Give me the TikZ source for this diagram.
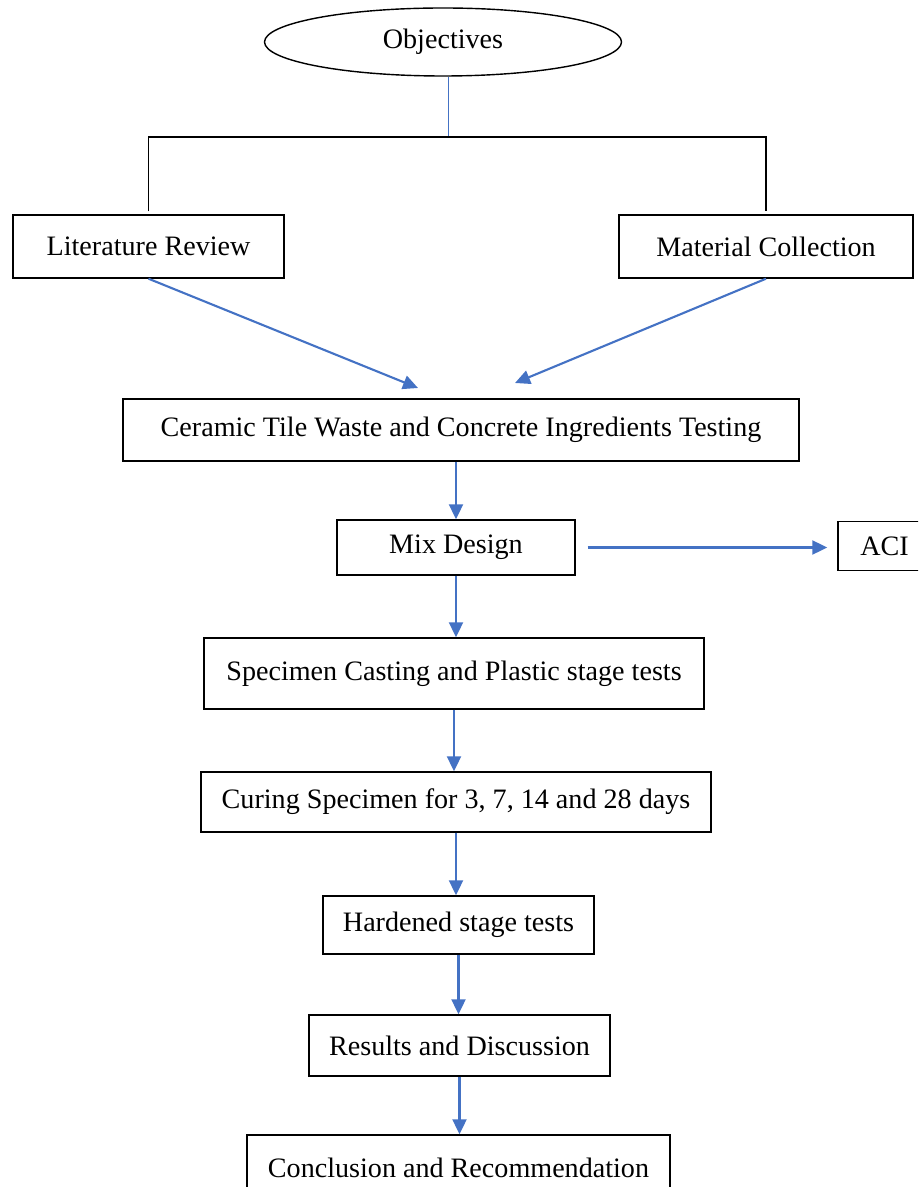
\documentclass[tikz,border=0pt]{standalone}
\usepackage{fontspec}
\setmainfont{Liberation Serif}
\usepackage{tikz}
\usetikzlibrary{arrows.meta, shapes.geometric}

\definecolor{flowblue}{RGB}{68,114,196}

\begin{document}
\begin{tikzpicture}[
    >={Triangle[length=3.0mm, width=2.8mm]},
    font=\fontsize{16}{19}\selectfont,
    box/.style  = {draw=black, line width=0.8pt, inner sep=2pt, fill=white},
    oval/.style = {ellipse, draw=black, line width=0.8pt, minimum width=7.14cm, minimum height=1.36cm},
    flow/.style = {->, draw=flowblue, line width=1.2pt},
    tree/.style = {draw=black, line width=0.6pt}
  ]
  \clip (0,0) rectangle (18.36,-23.74);

  % --- top: objectives and the split ---
  \node[oval] (obj) at (8.86,-0.84) {Objectives};
  \coordinate (split) at (8.96,-2.74);

  % --- first row ---
  \node[box, minimum width=5.42cm, minimum height=1.26cm] (litrev) at (2.97,-4.93) {Literature Review};
  \node[box, minimum width=5.88cm, minimum height=1.26cm] (matcol) at (15.32,-4.93) {Material Collection};

  % --- main column ---
  \node[box, minimum width=13.52cm, minimum height=1.24cm] (testing)  at (9.22,-8.60)  {Ceramic Tile Waste and Concrete Ingredients Testing};
  \node[box, minimum width=4.76cm,  minimum height=1.10cm] (mix)      at (9.12,-10.95) {Mix Design};
  \node[box, minimum width=1.86cm,  minimum height=0.98cm] (aci)      at (17.69,-10.92) {ACI};
  \node[box, minimum width=10.0cm,  minimum height=1.42cm] (casting)  at (9.08,-13.47) {Specimen Casting and Plastic stage tests};
  \node[box, minimum width=10.2cm,  minimum height=1.20cm] (curing)   at (9.12,-16.04) {Curing Specimen for 3, 7, 14 and 28 days};
  \node[box, minimum width=5.42cm,  minimum height=1.16cm] (hardened) at (9.17,-18.50) {Hardened stage tests};
  \node[box, minimum width=6.02cm,  minimum height=1.22cm] (results)  at (9.19,-20.91) {Results and Discussion};
  \node[box, minimum width=8.46cm,  minimum height=1.30cm] (concl)    at (9.17,-23.35) {Conclusion and Recommendation};

  % --- arrow ends above the testing box ---
  \coordinate (inL) at (8.36,-7.76);
  \coordinate (inR) at (10.30,-7.66);

  % --- tree lines ---
  \draw[draw=flowblue, line width=0.5pt] (split |- obj.south) -- (split);
  \draw[tree] ([yshift=0.06cm]litrev.north) |- (split) -| ([yshift=0.06cm]matcol.north);

  % --- flow arrows ---
  \draw[flow] (litrev.south) -- (inL);
  \draw[flow] (matcol.south) -- (inR);
  \draw[flow] (testing.south -| mix.north) -- (mix.north);
  \draw[flow] ([xshift=0.24cm]mix.east) -- ([xshift=-0.2cm]aci.west |- mix.east);
  \draw[flow] (mix.south) -- (mix.south |- casting.north);
  \draw[flow] (casting.south) -- (casting.south |- curing.north);
  \draw[flow] (curing.south) -- (curing.south |- hardened.north);
  \draw[flow] (hardened.south) -- (hardened.south |- results.north);
  \draw[flow] (results.south) -- (results.south |- concl.north);

\end{tikzpicture}
\end{document}
